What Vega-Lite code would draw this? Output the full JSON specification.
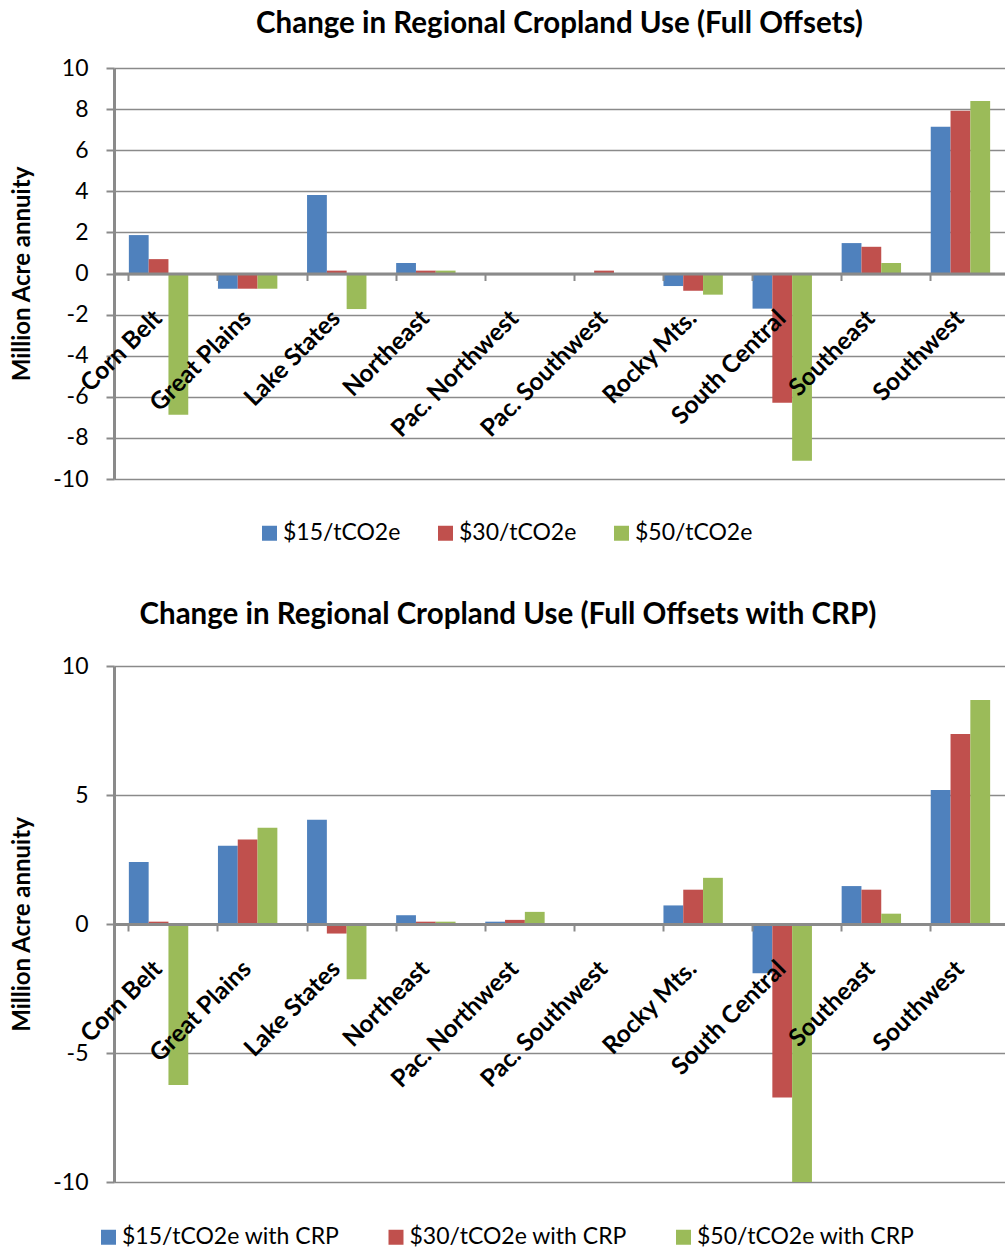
{
  "$schema": "https://vega.github.io/schema/vega-lite/v6.json",
  "padding": {"left": 10, "top": 8, "right": 0, "bottom": 0},
  "background": "white",
  "config": {
    "font": "Lato",
    "view": {"stroke": null},
    "axisY": {
      "gridColor": "#8a8a8a", "gridWidth": 1.5, "domainColor": "#8a8a8a", "domainWidth": 3,
      "tickColor": "#8a8a8a", "tickWidth": 2, "tickSize": 8, "labelFontSize": 23, "labelColor": "#000000",
      "labelPadding": 18, "labelFont": "Lato", "titleFont": "Lato", "titleFontSize": 24, "titleFontWeight": "bold",
      "titleColor": "#000000", "titlePadding": 18
    },
    "axisX": {
      "grid": false, "domainColor": "#8a8a8a", "domainWidth": 3, "tickColor": "#8a8a8a", "tickWidth": 2,
      "tickSize": 7, "bandPosition": 0, "labelAngle": -45, "labelAlign": "right", "labelBaseline": "middle",
      "labelFont": "Lato", "labelFontWeight": "bold", "labelFontSize": 24.5, "labelColor": "#000000",
      "labelPadding": 34, "labelOffset": 0, "title": null
    },
    "legend": {
      "orient": "none", "direction": "horizontal", "title": null, "symbolType": "square", "symbolSize": 225,
      "symbolStrokeWidth": 0, "labelFont": "Lato", "labelFontSize": 23, "labelColor": "#000000", "labelOffset": 2,
      "labelLimit": 0, "padding": 0
    },
    "title": {"font": "Lato", "fontWeight": "bold", "fontSize": 29.5, "color": "#000000"}
  },
  "datasets": {
    "offsets": [
      {"region": "Corn Belt", "series": "$15/tCO2e", "value": 1.87},
      {"region": "Corn Belt", "series": "$30/tCO2e", "value": 0.70},
      {"region": "Corn Belt", "series": "$50/tCO2e", "value": -6.87},
      {"region": "Great Plains", "series": "$15/tCO2e", "value": -0.74},
      {"region": "Great Plains", "series": "$30/tCO2e", "value": -0.74},
      {"region": "Great Plains", "series": "$50/tCO2e", "value": -0.74},
      {"region": "Lake States", "series": "$15/tCO2e", "value": 3.82},
      {"region": "Lake States", "series": "$30/tCO2e", "value": 0.14},
      {"region": "Lake States", "series": "$50/tCO2e", "value": -1.73},
      {"region": "Northeast", "series": "$15/tCO2e", "value": 0.51},
      {"region": "Northeast", "series": "$30/tCO2e", "value": 0.14},
      {"region": "Northeast", "series": "$50/tCO2e", "value": 0.14},
      {"region": "Pac. Northwest", "series": "$15/tCO2e", "value": 0},
      {"region": "Pac. Northwest", "series": "$30/tCO2e", "value": 0},
      {"region": "Pac. Northwest", "series": "$50/tCO2e", "value": 0},
      {"region": "Pac. Southwest", "series": "$15/tCO2e", "value": 0},
      {"region": "Pac. Southwest", "series": "$30/tCO2e", "value": 0.14},
      {"region": "Pac. Southwest", "series": "$50/tCO2e", "value": 0},
      {"region": "Rocky Mts.", "series": "$15/tCO2e", "value": -0.61},
      {"region": "Rocky Mts.", "series": "$30/tCO2e", "value": -0.84},
      {"region": "Rocky Mts.", "series": "$50/tCO2e", "value": -1.03},
      {"region": "South Central", "series": "$15/tCO2e", "value": -1.71},
      {"region": "South Central", "series": "$30/tCO2e", "value": -6.29},
      {"region": "South Central", "series": "$50/tCO2e", "value": -9.11},
      {"region": "Southeast", "series": "$15/tCO2e", "value": 1.48},
      {"region": "Southeast", "series": "$30/tCO2e", "value": 1.30},
      {"region": "Southeast", "series": "$50/tCO2e", "value": 0.51},
      {"region": "Southwest", "series": "$15/tCO2e", "value": 7.14},
      {"region": "Southwest", "series": "$30/tCO2e", "value": 7.92},
      {"region": "Southwest", "series": "$50/tCO2e", "value": 8.39}
    ],
    "crp": [
      {"region": "Corn Belt", "series": "$15/tCO2e with CRP", "value": 2.40},
      {"region": "Corn Belt", "series": "$30/tCO2e with CRP", "value": 0.09},
      {"region": "Corn Belt", "series": "$50/tCO2e with CRP", "value": -6.24},
      {"region": "Great Plains", "series": "$15/tCO2e with CRP", "value": 3.03},
      {"region": "Great Plains", "series": "$30/tCO2e with CRP", "value": 3.28},
      {"region": "Great Plains", "series": "$50/tCO2e with CRP", "value": 3.73},
      {"region": "Lake States", "series": "$15/tCO2e with CRP", "value": 4.04},
      {"region": "Lake States", "series": "$30/tCO2e with CRP", "value": -0.37},
      {"region": "Lake States", "series": "$50/tCO2e with CRP", "value": -2.14},
      {"region": "Northeast", "series": "$15/tCO2e with CRP", "value": 0.34},
      {"region": "Northeast", "series": "$30/tCO2e with CRP", "value": 0.09},
      {"region": "Northeast", "series": "$50/tCO2e with CRP", "value": 0.09},
      {"region": "Pac. Northwest", "series": "$15/tCO2e with CRP", "value": 0.09},
      {"region": "Pac. Northwest", "series": "$30/tCO2e with CRP", "value": 0.16},
      {"region": "Pac. Northwest", "series": "$50/tCO2e with CRP", "value": 0.47},
      {"region": "Pac. Southwest", "series": "$15/tCO2e with CRP", "value": 0},
      {"region": "Pac. Southwest", "series": "$30/tCO2e with CRP", "value": 0},
      {"region": "Pac. Southwest", "series": "$50/tCO2e with CRP", "value": 0},
      {"region": "Rocky Mts.", "series": "$15/tCO2e with CRP", "value": 0.72},
      {"region": "Rocky Mts.", "series": "$30/tCO2e with CRP", "value": 1.33},
      {"region": "Rocky Mts.", "series": "$50/tCO2e with CRP", "value": 1.79},
      {"region": "South Central", "series": "$15/tCO2e with CRP", "value": -1.91},
      {"region": "South Central", "series": "$30/tCO2e with CRP", "value": -6.72},
      {"region": "South Central", "series": "$50/tCO2e with CRP", "value": -10},
      {"region": "Southeast", "series": "$15/tCO2e with CRP", "value": 1.47},
      {"region": "Southeast", "series": "$30/tCO2e with CRP", "value": 1.33},
      {"region": "Southeast", "series": "$50/tCO2e with CRP", "value": 0.40},
      {"region": "Southwest", "series": "$15/tCO2e with CRP", "value": 5.19},
      {"region": "Southwest", "series": "$30/tCO2e with CRP", "value": 7.36},
      {"region": "Southwest", "series": "$50/tCO2e with CRP", "value": 8.68}
    ]
  },
  "spacing": 53,
  "resolve": {
    "scale": {"color": "independent", "y": "independent", "x": "independent", "xOffset": "independent"},
    "legend": {"color": "independent"},
    "axis": {"x": "independent", "y": "independent"}
  },
  "vconcat": [
    {
      "title": {"text": "Change in Regional Cropland Use (Full Offsets)", "frame": "group", "offset": 18},
      "width": 891,
      "height": 411,
      "data": {"name": "offsets"},
      "mark": {"type": "bar"},
      "encoding": {
        "x": {"field": "region", "type": "nominal", "sort": null,
              "scale": {"paddingInner": 0.3333, "paddingOuter": 0.1667},
              "axis": {"offset": -205.5, "zindex": 2}},
        "xOffset": {"field": "series", "type": "nominal", "sort": null,
                    "scale": {"domain": ["$15/tCO2e", "$30/tCO2e", "$50/tCO2e"]}},
        "y": {"field": "value", "type": "quantitative",
              "scale": {"domain": [-10, 10], "nice": false},
              "axis": {"values": [-10, -8, -6, -4, -2, 0, 2, 4, 6, 8, 10], "labelExpr": "'' + datum.value",
                       "title": "Million Acre annuity", "zindex": 0}},
        "color": {"field": "series", "type": "nominal",
                  "scale": {"domain": ["$15/tCO2e", "$30/tCO2e", "$50/tCO2e"], "range": ["#4F81BD", "#C0504D", "#9BBB59"]},
                  "legend": {"legendX": 144, "legendY": 453.5, "columnPadding": 33}}
      }
    },
    {
      "title": {"text": "Change in Regional Cropland Use (Full Offsets with CRP)", "frame": "bounds", "offset": 25},
      "width": 891,
      "height": 516,
      "data": {"name": "crp"},
      "mark": {"type": "bar"},
      "encoding": {
        "x": {"field": "region", "type": "nominal", "sort": null,
              "scale": {"paddingInner": 0.3333, "paddingOuter": 0.1667},
              "axis": {"offset": -258, "zindex": 2}},
        "xOffset": {"field": "series", "type": "nominal", "sort": null,
                    "scale": {"domain": ["$15/tCO2e with CRP", "$30/tCO2e with CRP", "$50/tCO2e with CRP"]}},
        "y": {"field": "value", "type": "quantitative",
              "scale": {"domain": [-10, 10], "nice": false},
              "axis": {"values": [-10, -5, 0, 5, 10], "labelExpr": "'' + datum.value",
                       "title": "Million Acre annuity", "zindex": 0}},
        "color": {"field": "series", "type": "nominal",
                  "scale": {"domain": ["$15/tCO2e with CRP", "$30/tCO2e with CRP", "$50/tCO2e with CRP"], "range": ["#4F81BD", "#C0504D", "#9BBB59"]},
                  "legend": {"legendX": -17, "legendY": 559.5, "columnPadding": 44.5}}
      }
    }
  ]
}
